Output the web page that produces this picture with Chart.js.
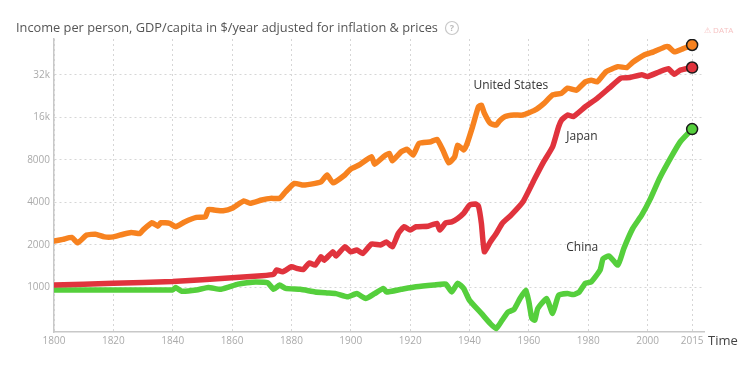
<!DOCTYPE html>
<html>
<head>
<meta charset="utf-8">
<script src="https://cdn.jsdelivr.net/npm/chart.js@4"></script>
<style>
  body { margin: 0; background: #fff; }
  canvas { display: block; }
</style>
</head>
<body>
<canvas id="incomeChart" width="750" height="370"></canvas>
<script>
const xTicks = [1800, 1820, 1840, 1860, 1880, 1900, 1920, 1940, 1960, 1980, 2000, 2015];
const yTicks = [1000, 2000, 4000, 8000, 16000, 32000];
const yTickLabels = ["1000", "2000", "4000", "8000", "16k", "32k"];

const usYears = [1800, 1803, 1806, 1808, 1811, 1814, 1817, 1820, 1823, 1826, 1829, 1830, 1833, 1835, 1836, 1839,
    1841, 1844, 1848, 1851, 1852, 1854, 1857, 1860, 1864, 1866, 1870, 1873, 1876, 1878, 1881, 1884, 1888, 1890,
    1892, 1894, 1898, 1900, 1903, 1907, 1908, 1911, 1913, 1914, 1917, 1919, 1921, 1923, 1927, 1929, 1931, 1933,
    1935, 1936, 1938, 1939, 1941, 1943, 1944, 1945, 1947, 1949, 1950, 1952, 1955, 1958, 1962, 1965, 1968, 1971,
    1973, 1976, 1979, 1981, 1983, 1986, 1990, 1993, 1995, 1999, 2002, 2006, 2007, 2009, 2012, 2015];
const usIncome = [2130, 2190, 2260, 2070, 2350, 2380, 2280, 2280, 2370, 2450, 2410, 2550, 2870, 2715, 2870, 2840,
    2690, 2910, 3130, 3160, 3570, 3530, 3490, 3630, 4100, 3940, 4160, 4270, 4270, 4750, 5450, 5300, 5450, 5600,
    6250, 5500, 6250, 6900, 7400, 8420, 7460, 8420, 8880, 7880, 9120, 9490, 8660, 10460, 10740, 11180, 9400, 7630,
    8420, 10170, 9400, 10170, 13700, 19000, 19500, 17100, 14500, 14100, 15000, 16200, 16600, 16600, 17960, 20000, 23060, 23700,
    25700, 24900, 28500, 29300, 28500, 33600, 36500, 36000, 39200, 44300, 46500, 50500, 50500, 46500, 49000, 52000];

const japanYears = [1800, 1820, 1840, 1860, 1870, 1874, 1875, 1877, 1880, 1882, 1884, 1886, 1888, 1890, 1891, 1894,
    1895, 1898, 1900, 1902, 1904, 1907, 1910, 1912, 1914, 1916, 1918, 1920, 1922, 1926, 1929, 1930, 1932, 1934,
    1936, 1938, 1940, 1942, 1943, 1944, 1945, 1947, 1949, 1951, 1954, 1958, 1962, 1965, 1968, 1970, 1971, 1973,
    1975, 1979, 1983, 1987, 1991, 1994, 1998, 2000, 2004, 2007, 2009, 2011, 2015];
const japanIncome = [1040, 1070, 1100, 1170, 1210, 1240, 1330, 1290, 1400, 1360, 1340, 1490, 1440, 1650, 1560, 1790,
    1670, 1940, 1790, 1840, 1740, 2030, 2000, 2100, 1940, 2410, 2690, 2550, 2690, 2715, 2840, 2550, 2870, 2910,
    3080, 3340, 3830, 3890, 3770, 2840, 1790, 2100, 2410, 2840, 3250, 4040, 5900, 7770, 9900, 13700, 15300, 16600,
    16200, 19000, 21800, 25700, 30300, 30600, 32000, 31100, 33600, 35300, 32300, 34500, 36000];

const chinaYears = [1800, 1820, 1840, 1841, 1843, 1848, 1852, 1856, 1859, 1862, 1865, 1868, 1872, 1874, 1876, 1878,
    1883, 1888, 1892, 1895, 1899, 1902, 1905, 1908, 1911, 1912, 1917, 1922, 1928, 1932, 1934, 1936, 1938, 1940,
    1944, 1947, 1949, 1951, 1953, 1955, 1957, 1959, 1960, 1961, 1962, 1963, 1966, 1968, 1970, 1973, 1975, 1977,
    1979, 1981, 1984, 1985, 1987, 1990, 1992, 1995, 1998, 2001, 2004, 2008, 2011, 2015];
const chinaIncome = [960, 960, 960, 1000, 940, 960, 1000, 970, 1010, 1055, 1080, 1095, 1080, 970, 1040, 985,
    970, 930, 915, 905, 860, 905, 835, 905, 985, 930, 970, 1010, 1040, 1055, 930, 1070, 985, 810,
    655, 555, 512, 587, 670, 700, 835, 955, 790, 603, 587, 710, 835, 655, 880, 905, 890, 930,
    1070, 1095, 1330, 1600, 1670, 1440, 1890, 2620, 3250, 4270, 5900, 8420, 10740, 13200];

const countryNames = ["United States", "Japan", "China"];
const countryColors = ["#f7821f", "#e0333d", "#55cf3c"];
const labelYears = [1941.3, 1972.6, 1972.6];
const labelValues = [27000, 11600, 1930];

function toPoints(years, values) {
    return years.map((yr, i) => ({ x: yr, y: values[i] }));
}

function makeDataset(idx, years, values) {
    const last = years.length - 1;
    return {
        label: countryNames[idx],
        data: toPoints(years, values),
        borderColor: countryColors[idx],
        borderWidth: 5.5,
        borderJoinStyle: 'round',
        borderCapStyle: 'round',
        tension: 0.15,
        pointRadius: ctx => ctx.dataIndex === last ? 5.5 : 0,
        pointHoverRadius: 0,
        pointBackgroundColor: countryColors[idx],
        pointBorderColor: '#1a1a1a',
        pointBorderWidth: 1.5,
        order: idx
    };
}

const textFont = '"Open Sans", "Noto Sans", sans-serif';

// title, help icon, "DATA" link, axis name and the country names
const extrasPlugin = {
    id: 'extras',
    afterDraw(chart) {
        const ctx = chart.ctx;
        const xs = chart.scales.x;
        const ys = chart.scales.y;
        ctx.save();
        ctx.textBaseline = 'middle';
        ctx.textAlign = 'left';
        ctx.fillStyle = '#555';
        ctx.font = '12.8px ' + textFont;
        const title = 'Income per person, GDP/capita in $/year adjusted for inflation & prices';
        ctx.fillText(title, 16, 28);
        const tw = ctx.measureText(title).width;

        ctx.strokeStyle = '#c8c8c8';
        ctx.lineWidth = 1.2;
        ctx.beginPath();
        ctx.arc(16 + tw + 14, 28, 6.5, 0, Math.PI * 2);
        ctx.stroke();
        ctx.fillStyle = '#bbb';
        ctx.font = 'bold 9px ' + textFont;
        ctx.textAlign = 'center';
        ctx.fillText('?', 16 + tw + 14, 28.5);

        ctx.fillStyle = '#f6c3c3';
        ctx.font = '8px ' + textFont;
        ctx.textAlign = 'left';
        ctx.fillText('\u26A0 DATA', 704, 31);

        ctx.fillStyle = '#444';
        ctx.font = '13px ' + textFont;
        ctx.fillText('Time', 708, 341);

        ctx.fillStyle = '#333';
        ctx.font = '12px ' + textFont;
        countryNames.forEach((name, i) => {
            ctx.fillText(name, xs.getPixelForValue(labelYears[i]), ys.getPixelForValue(labelValues[i]));
        });
        ctx.restore();
    }
};

new Chart(document.getElementById('incomeChart'), {
    type: 'line',
    data: {
        datasets: [
            makeDataset(0, usYears, usIncome),
            makeDataset(1, japanYears, japanIncome),
            makeDataset(2, chinaYears, chinaIncome)
        ]
    },
    options: {
        responsive: false,
        animation: false,
        layout: {
            padding: { top: 39, right: 46, bottom: 0, left: 0 }
        },
        plugins: {
            legend: { display: false },
            tooltip: { enabled: false }
        },
        scales: {
            x: {
                type: 'linear',
                min: 1800,
                max: 2019,
                afterBuildTicks: scale => {
                    scale.ticks = xTicks.map(v => ({ value: v }));
                },
                afterFit: scale => { scale.height = 38; },
                ticks: {
                    color: '#aaa',
                    font: { size: 10, family: textFont },
                    padding: 3,
                    maxRotation: 0,
                    autoSkip: false,
                    callback: v => String(v)
                },
                grid: {
                    color: '#d6d6d6',
                    lineWidth: 1,
                    drawTicks: false
                },
                border: {
                    display: true,
                    color: '#c8c8c8',
                    width: 1.5,
                    dash: [2, 3]
                }
            },
            y: {
                type: 'logarithmic',
                min: 484,
                max: 57300,
                afterBuildTicks: scale => {
                    scale.ticks = yTicks.map(v => ({ value: v }));
                },
                afterFit: scale => { scale.width = 54; },
                ticks: {
                    color: '#aaa',
                    font: { size: 10, family: textFont },
                    padding: 4,
                    autoSkip: false,
                    callback: v => yTickLabels[yTicks.indexOf(v)] || ''
                },
                grid: {
                    color: '#d6d6d6',
                    lineWidth: 1,
                    drawTicks: false
                },
                border: {
                    display: true,
                    color: '#c8c8c8',
                    width: 1.5,
                    dash: [2, 3]
                }
            }
        }
    },
    plugins: [extrasPlugin]
});
</script>
</body>
</html>
